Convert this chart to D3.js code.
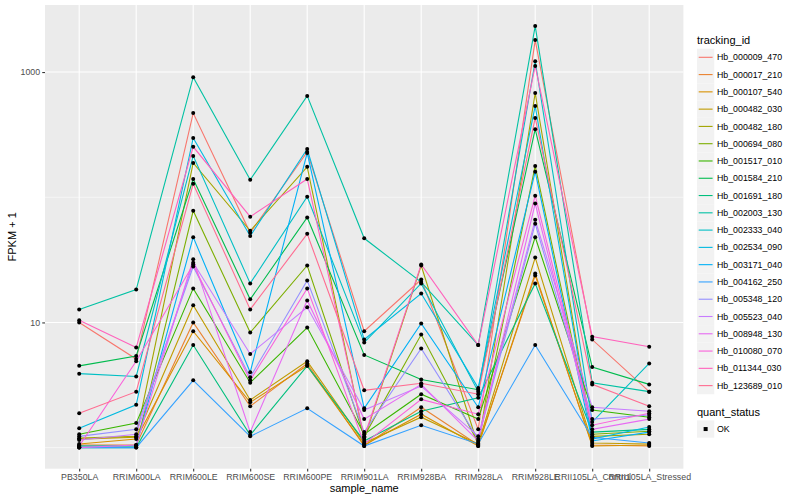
<!DOCTYPE html>
<html>
<head>
<meta charset="utf-8">
<script src="https://cdn.jsdelivr.net/npm/d3@7"></script>
<style>
  body { margin: 0; background: #fff; }
  text { font-family: "Liberation Sans", Arial, sans-serif; }
</style>
</head>
<body>
<svg width="800" height="500"></svg>
<script>
// categories on the x axis
var samples = ["PB350LA", "RRIM600LA", "RRIM600LE", "RRIM600SE", "RRIM600PE", "RRIM901LA",
    "RRIM928BA", "RRIM928LA", "RRIM928LE", "RRII105LA_Control", "RRII105LA_Stressed"];

// one series per gene
var trackingIds = ["Hb_000009_470", "Hb_000017_210", "Hb_000107_540", "Hb_000482_030", "Hb_000482_180",
    "Hb_000694_080", "Hb_001517_010", "Hb_001584_210", "Hb_001691_180", "Hb_002003_130",
    "Hb_002333_040", "Hb_002534_090", "Hb_003171_040", "Hb_004162_250", "Hb_005348_120",
    "Hb_005523_040", "Hb_008948_130", "Hb_010080_070", "Hb_011344_030", "Hb_123689_010"];

// FPKM + 1 per gene, in sample order
var fpkm = [
    [10.0, 5.1, 470, 52, 230, 8.5, 22, 1.4, 1800, 7.3, 2.8],
    [1.05, 1.05, 10, 2.14, 4.7, 1.03, 2.1, 1.05, 23.7, 1.05, 1.03],
    [1.07, 1.17, 8.5, 2.3, 4.5, 1.05, 1.85, 1.03, 24.6, 1.03, 1.05],
    [1.17, 1.21, 13.7, 2.4, 4.9, 1.09, 1.75, 1.07, 33, 1.09, 1.07],
    [1.19, 1.23, 188, 54, 175, 1.17, 28.5, 1.03, 680, 1.23, 1.28],
    [1.03, 1.03, 78, 8.3, 28.5, 1.23, 8.0, 1.09, 178, 1.28, 1.35],
    [1.28, 1.57, 18.7, 3.3, 9.1, 1.28, 2.67, 1.69, 48, 2.0, 1.75],
    [4.5, 5.4, 140, 15.3, 69, 5.5, 3.5, 2.9, 350, 4.4, 3.2],
    [1.0, 1.0, 6.6, 1.26, 4.5, 1.13, 1.95, 2.5, 20.5, 1.33, 1.4],
    [12.7, 18.3, 910, 138, 645, 47, 21, 6.6, 2330, 3.3, 2.8],
    [3.9, 3.7, 214, 20.5, 101, 6.9, 20.5, 2.8, 1220, 1.6, 4.7],
    [1.43, 2.2, 298, 49, 243, 7.3, 17, 3.0, 536, 1.17, 1.46],
    [1.03, 1.03, 48, 4.0, 226, 2.06, 9.8, 2.1, 160, 1.13, 1.33],
    [1.0, 1.0, 3.45, 1.23, 2.06, 1.03, 1.51, 1.07, 6.6, 1.21, 1.09],
    [1.23, 1.4, 28, 3.65, 21.6, 1.33, 6.2, 1.17, 61.5, 1.69, 1.82],
    [1.15, 1.28, 30, 5.6, 13.2, 2.0, 3.1, 1.23, 66, 2.1, 1.95],
    [1.0, 1.05, 32, 1.33, 15, 1.69, 3.2, 1.13, 89, 1.4, 1.69],
    [1.03, 4.9, 29, 3.45, 18.7, 1.07, 2.43, 1.85, 103, 1.51, 1.88],
    [10.4, 6.3, 253, 70, 140, 1.21, 29, 6.6, 1120, 7.7, 6.4],
    [1.88, 2.8, 128, 12.7, 51, 2.87, 3.27, 2.67, 430, 3.2, 2.14]
];

var yTicks = [10, 1000];
var yMinor = [1, 100];
var statusLevels = ["OK"];

//ggplot hue palette
var colours = ["#F8766D", "#EA8331", "#D89000", "#C09B00", "#A3A500", "#7CAE00", "#39B600", "#00BB4E",
    "#00BF7D", "#00C1A3", "#00BFC4", "#00BAE0", "#00B0F6", "#35A2FF", "#9590FF", "#C77CFF",
    "#E76BF3", "#FA62DB", "#FF62BC", "#FF6C91"];

var panel = {left: 45, right: 683.4, top: 5, bottom: 468.7};

var svg = d3.select("svg");

var x = d3.scalePoint()
    .domain(samples)
    .range([panel.left, panel.right])
    .padding(0.6);

//log scale with 5% expansion like ggplot
var allVals = d3.merge(fpkm);
var lo = Math.log10(d3.min(allVals)), hi = Math.log10(d3.max(allVals));
var pad = (hi - lo) * 0.05;
var y = d3.scaleLog()
    .domain([Math.pow(10, lo - pad), Math.pow(10, hi + pad)])
    .range([panel.bottom, panel.top]);

//panel background
svg.append("rect")
    .attr("x", panel.left).attr("y", panel.top)
    .attr("width", panel.right - panel.left)
    .attr("height", panel.bottom - panel.top)
    .attr("fill", "#EBEBEB");

var grid = svg.append("g");
grid.selectAll(".minor").data(yMinor).enter().append("line")
    .attr("x1", panel.left).attr("x2", panel.right)
    .attr("y1", d => y(d)).attr("y2", d => y(d))
    .attr("stroke", "#fff").attr("stroke-width", 0.55);
grid.selectAll(".major").data(yTicks).enter().append("line")
    .attr("x1", panel.left).attr("x2", panel.right)
    .attr("y1", d => y(d)).attr("y2", d => y(d))
    .attr("stroke", "#fff").attr("stroke-width", 1.07);
grid.selectAll(".xgrid").data(samples).enter().append("line")
    .attr("x1", d => x(d)).attr("x2", d => x(d))
    .attr("y1", panel.top).attr("y2", panel.bottom)
    .attr("stroke", "#fff").attr("stroke-width", 1.07);

//lines
var line = d3.line()
    .x((d, i) => x(samples[i]))
    .y(d => y(d));

svg.append("g").selectAll("path")
    .data(fpkm)
    .enter().append("path")
    .attr("d", line)
    .attr("fill", "none")
    .attr("stroke", (d, i) => colours[i])
    .attr("stroke-width", 1.1);

//points
var pts = [];
fpkm.forEach(function (row) {
    row.forEach(function (v, j) { pts.push([samples[j], v]); });
});
svg.append("g").selectAll("circle")
    .data(pts)
    .enter().append("circle")
    .attr("cx", d => x(d[0]))
    .attr("cy", d => y(d[1]))
    .attr("r", 2)
    .attr("fill", "#000");

//axes
var yAxis = svg.append("g")
    .attr("transform", "translate(" + panel.left + ",0)")
    .call(d3.axisLeft(y).tickValues(yTicks).tickFormat(d3.format("d")).tickSize(2.75).tickPadding(2.2));
var xAxis = svg.append("g")
    .attr("transform", "translate(0," + panel.bottom + ")")
    .call(d3.axisBottom(x).tickSize(2.75).tickPadding(2.2));

[xAxis, yAxis].forEach(function (a) {
    a.select(".domain").remove();
    a.selectAll(".tick line").attr("stroke", "#333").attr("stroke-width", 1.07);
    a.selectAll(".tick text").attr("fill", "#4D4D4D").style("font-size", "8.8px")
        .style("font-family", "Liberation Sans, Arial, sans-serif");
});

svg.append("text")
    .attr("x", (panel.left + panel.right) / 2).attr("y", 492)
    .attr("text-anchor", "middle").style("font-size", "11px")
    .text("sample_name");
svg.append("text")
    .attr("transform", "translate(16," + ((panel.top + panel.bottom) / 2) + ") rotate(-90)")
    .attr("text-anchor", "middle").style("font-size", "11px")
    .text("FPKM + 1");

//legend
var key = 17.28, legX = 697;
var leg = svg.append("g");
leg.append("text").attr("x", legX).attr("y", 44).style("font-size", "11px").text("tracking_id");

var item = leg.selectAll(".item").data(trackingIds).enter().append("g")
    .attr("transform", (d, i) => "translate(" + legX + "," + (48.66 + i * key) + ")");
item.append("rect").attr("width", key).attr("height", key).attr("fill", "#F2F2F2");
item.append("line")
    .attr("x1", 1.7).attr("x2", key - 1.7)
    .attr("y1", key / 2).attr("y2", key / 2)
    .attr("stroke", (d, i) => colours[i]).attr("stroke-width", 1.1);
item.append("text")
    .attr("x", key + 2.7).attr("y", key / 2 + 3.1)
    .style("font-size", "8.8px")
    .text(d => d);

leg.append("text").attr("x", legX).attr("y", 416).style("font-size", "11px").text("quant_status");
var st = leg.selectAll(".st").data(statusLevels).enter().append("g")
    .attr("transform", (d, i) => "translate(" + legX + "," + (420.4 + i * key) + ")");
st.append("rect").attr("width", key).attr("height", key).attr("fill", "#F2F2F2");
st.append("rect").attr("x", key / 2 - 2).attr("y", key / 2 - 2).attr("width", 4).attr("height", 4).attr("fill", "#000");
st.append("text")
    .attr("x", key + 2.7).attr("y", key / 2 + 3.1)
    .style("font-size", "8.8px")
    .text(d => d);
</script>
</body>
</html>
